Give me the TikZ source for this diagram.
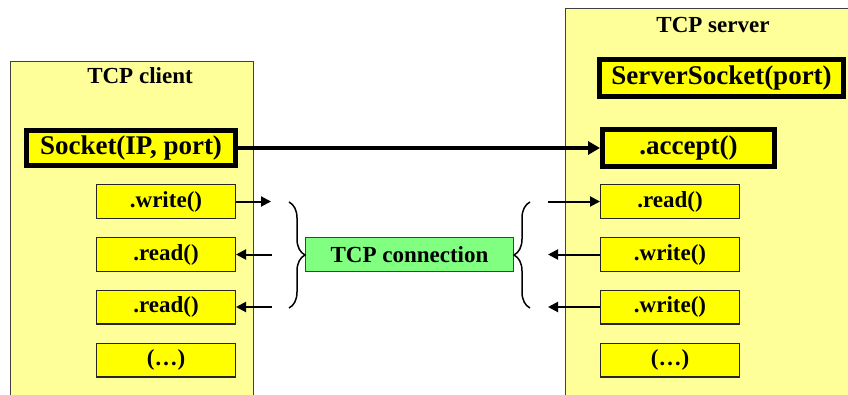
\documentclass[tikz,border=0pt]{standalone}
\usepackage{fontspec}
\setmainfont{Liberation Serif}
\usetikzlibrary{arrows.meta,decorations.pathreplacing}
\definecolor{panelyellow}{HTML}{FFFF99}
\definecolor{boxyellow}{HTML}{FFFF00}
\definecolor{conngreen}{HTML}{80FF80}
\definecolor{edgegray}{HTML}{404040}
\tikzset{
  panel/.style={draw=edgegray, line width=1pt, fill=panelyellow},
  title/.style={anchor=base, font=\fontsize{23}{23}\selectfont\bfseries, inner sep=0pt},
  bigbox/.style={draw=black, line width=5pt, fill=boxyellow, inner sep=0pt,
    font=\fontsize{27}{27}\selectfont\bfseries},
  callbox/.style={draw=black!85, line width=1.4pt, fill=boxyellow, inner sep=0pt,
    minimum width=138.6pt, minimum height=33.6pt,
    font=\fontsize{23}{23}\selectfont\bfseries},
  connbox/.style={draw=edgegray, line width=1.2pt, fill=conngreen, inner sep=0pt,
    minimum width=208pt, minimum height=34pt,
    font=\fontsize{23}{23}\selectfont\bfseries},
  flow/.style={line width=2pt, -{Triangle[length=10pt,width=10pt]}},
  link/.style={line width=3.5pt, -{Triangle[length=12pt,width=13pt]}},
  bracket/.style={line width=1.5pt, decorate, decoration={brace, amplitude=16pt}}
}
\begin{document}
\begin{tikzpicture}[x=1pt, y=-1pt]
  \useasboundingbox (0,0) rectangle (848,394);
  \clip (0,0) rectangle (848,394);
  \fill[white] (0,0) rectangle (848,394);

  % client and server panels
  \draw[panel] (10,61) rectangle (253,410);
  \draw[panel] (565,8) rectangle (860,410);
  \node[title] (ctitle) at (140,83) {TCP client};
  \node[title] (stitle) at (713,32) {TCP server};

  % socket set-up
  \node[bigbox, minimum width=209pt, minimum height=35pt] (sock) at (131,148) {Socket(IP, port)};
  \node[bigbox, minimum width=244pt, minimum height=37pt] (ssock) at (721.5,78) {ServerSocket(port)};
  \node[bigbox, minimum width=172pt, minimum height=37pt] (acc) at (688.5,148) {.accept()};
  \draw[link] (sock.east) -- (acc.west);

  % client calls
  \node[callbox] (cw) at (166,201.5) {.write()};
  \node[callbox] (cr1) at (166,254.5) {.read()};
  \node[callbox] (cr2) at (166,307) {.read()};
  \node[callbox] (cdots) at (166,360) {(\dots)};

  % server calls
  \node[callbox] (sr) at (670,201.5) {.read()};
  \node[callbox] (sw1) at (670,254.5) {.write()};
  \node[callbox] (sw2) at (670,307) {.write()};
  \node[callbox] (sdots) at (670,360) {(\dots)};

  % connection in the middle
  \node[connbox] (conn) at (409.5,254.5) {TCP connection};

  % free ends of the data arrows
  \coordinate (cwo) at (271,201.5);
  \coordinate (cr1i) at (272,254.5);
  \coordinate (cr2i) at (272,307);
  \coordinate (sri) at (548,201.5);
  \coordinate (sw1o) at (548,254.5);
  \coordinate (sw2o) at (548,307);

  \draw[flow] (cw.east) -- (cwo);
  \draw[flow] (cr1i) -- (cr1.east);
  \draw[flow] (cr2i) -- (cr2.east);
  \draw[flow] (sri) -- (sr.west);
  \draw[flow] (sw1.west) -- (sw1o);
  \draw[flow] (sw2.west) -- (sw2o);

  % braces grouping the streams
  \coordinate (lbt) at (289,202);
  \coordinate (lbb) at (289,308);
  \coordinate (rbt) at (530,202);
  \coordinate (rbb) at (530,308);
  \draw[bracket] (lbt) -- (lbb);
  \draw[bracket] (rbb) -- (rbt);
\end{tikzpicture}
\end{document}
